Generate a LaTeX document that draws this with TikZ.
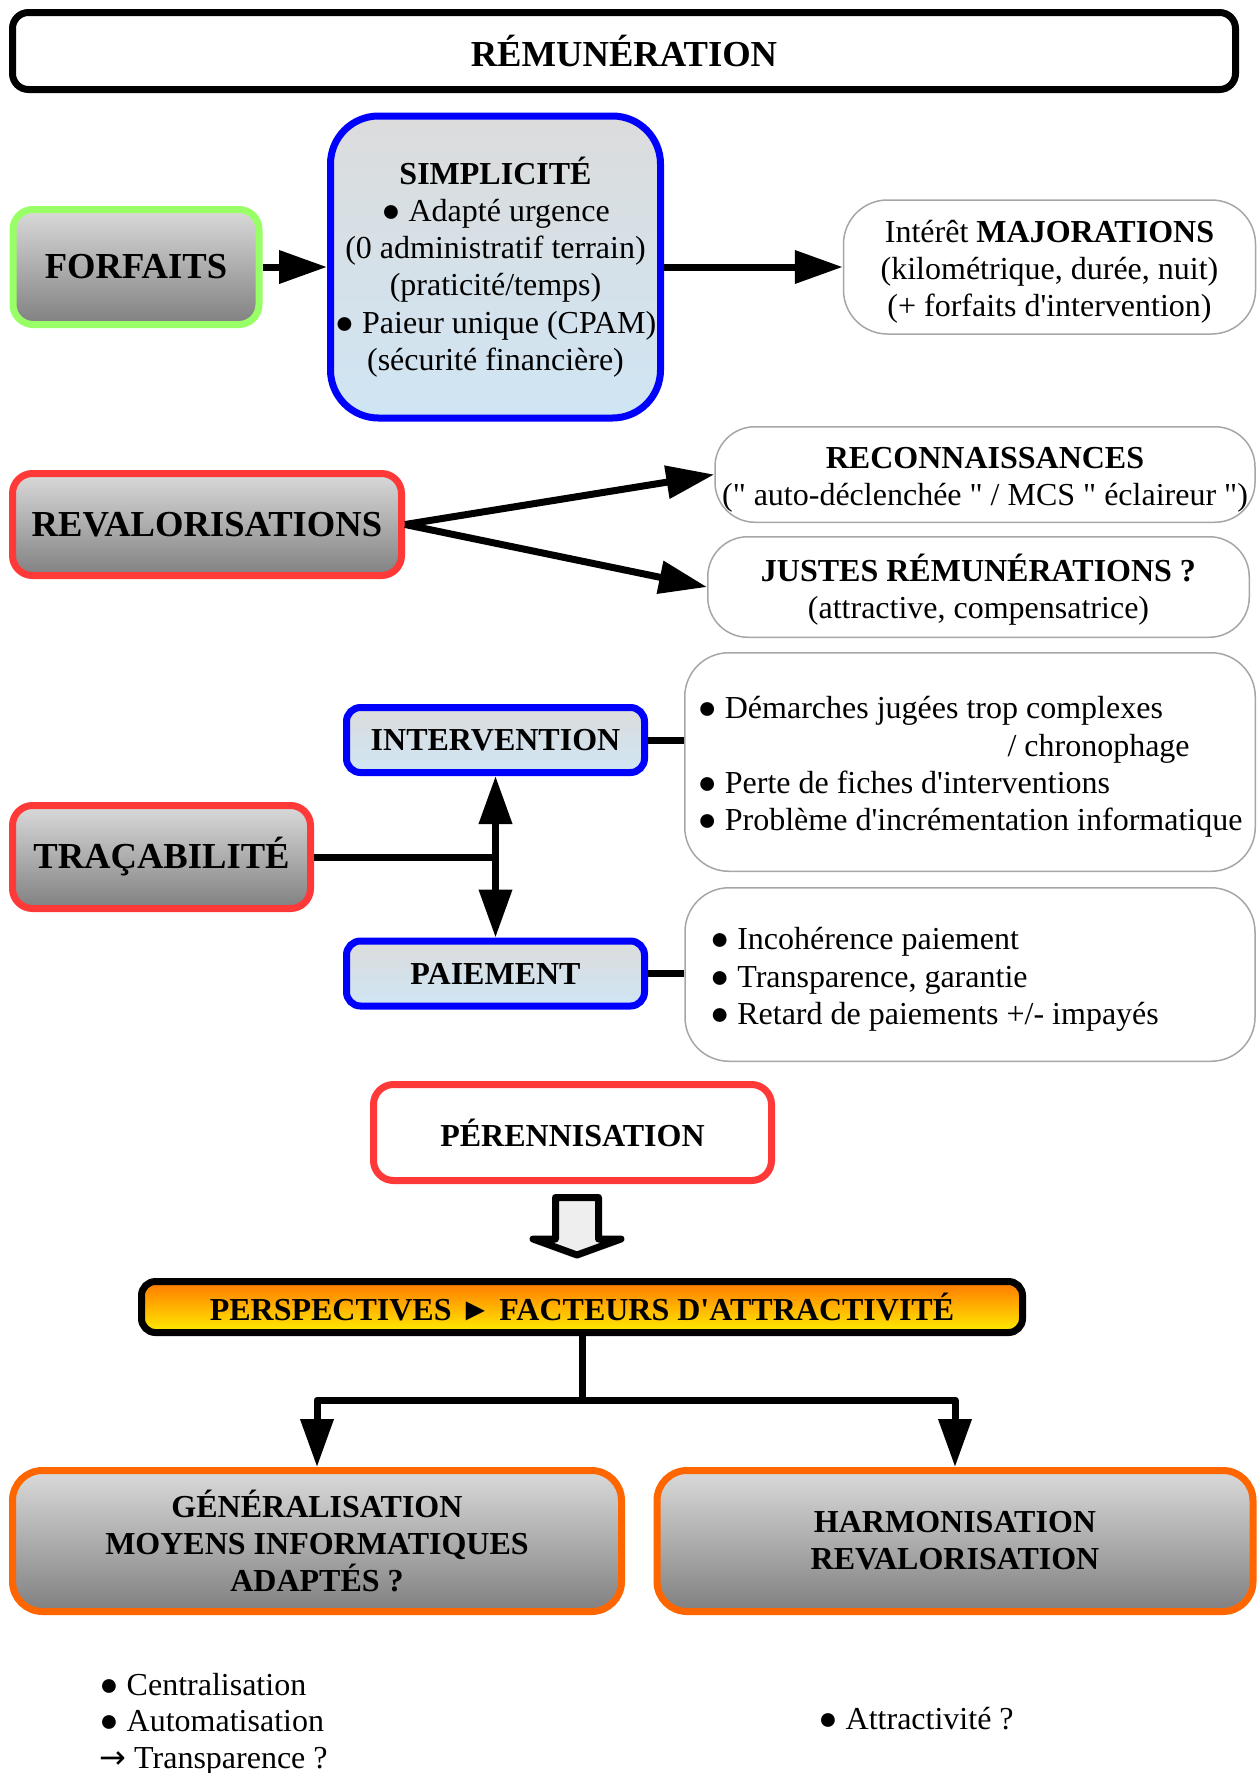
\documentclass[tikz,border=0pt]{standalone}
\usepackage{fontspec}
\setmainfont{Liberation Serif}[Ligatures=TeXOff]
\newfontfamily\symbfont{DejaVu Sans}
\usepackage{xcolor}
\usepackage{tikz}
\usetikzlibrary{arrows.meta,positioning}

\definecolor{vertclair}{HTML}{99FF66}
\definecolor{rougevif}{HTML}{FF3838}
\definecolor{bleuvif}{HTML}{0000FF}
\definecolor{orangevif}{HTML}{FF6600}
\definecolor{grisbord}{HTML}{A6A6A6}
\definecolor{grishaut}{HTML}{DADADA}
\definecolor{grisbas}{HTML}{808080}
\definecolor{grisbleu}{HTML}{DCDCDC}
\definecolor{bleuclair}{HTML}{CFE5F4}
\definecolor{orangeclair}{HTML}{FF7700}
\definecolor{jaune}{HTML}{FFEE00}
\definecolor{grisfleche}{HTML}{EEEEEE}

% premiere ligne un peu plus haute (texte centre plus bas)
\newcommand{\hautligne}{\rule{0pt}{16pt}}

\begin{document}
\begin{tikzpicture}[x=0.5pt, y=-0.5pt,
    texte/.style={font=\fontsize{16}{18.6}\selectfont, align=center},
    gras/.style={font=\fontsize{16}{18.4}\selectfont\bfseries, align=center},
    gros/.style={font=\fontsize{18.3}{22}\selectfont\bfseries, align=center},
    gris/.style={draw, line width=3.5pt, rounded corners=10pt, top color=grishaut, bottom color=grisbas},
    clair/.style={draw=bleuvif, line width=3.5pt, top color=grisbleu, bottom color=bleuclair},
    info/.style={draw=grisbord, line width=0.75pt, rounded corners=22pt, fill=white, texte},
    trait/.style={line width=3.5pt},
    fleche/.style={line width=3.5pt, -{Triangle[length=24pt,width=16pt]}},
    doublefleche/.style={line width=3.5pt, {Triangle[length=24pt,width=16pt]}-{Triangle[length=24pt,width=16pt]}}]
    \useasboundingbox (0,0) rectangle (1257,1773);

    % titre
    \node[draw, line width=3.5pt, rounded corners=8pt, minimum width=611.5pt, minimum height=38.5pt, gros] (titre) at (624,51) {RÉMUNÉRATION};

    % forfaits
    \node[gris, draw=vertclair, minimum width=123pt, minimum height=57.5pt, gros] (forfaits) at (136,267) {FORFAITS};
    \node[clair, rounded corners=24pt, inner sep=0pt, minimum width=165pt, minimum height=151pt, texte, right of=forfaits, node distance=179.75pt] (simplicite) {\textbf{SIMPLICITÉ}\\● Adapté urgence\\(0 administratif terrain)\\(praticité/temps)\\● Paieur unique (CPAM)\\(sécurité financière)};
    \node[info, minimum width=206pt, minimum height=67pt, right of=simplicite, node distance=277pt] (majoration) {\hautligne Intérêt \textbf{MAJORATIONS}\\(kilométrique, durée, nuit)\\(+ forfaits d'intervention)};

    \draw[fleche] (forfaits) -- (simplicite);
    \draw[fleche] (simplicite) -- (majoration);

    % revalorisations
    \node[gris, draw=rougevif, minimum width=194.5pt, minimum height=51pt, gros] (revalo) at (207,524.5) {REVALORISATIONS};
    \node[info, rounded corners=20pt, inner xsep=2pt, minimum width=270pt, minimum height=47.75pt] (recon) at (985,474.5) {\hautligne\textbf{RECONNAISSANCES}\\(" auto-déclenchée " / MCS " éclaireur ")};
    \node[info, rounded corners=20pt, minimum width=270.75pt, minimum height=50.25pt] (justes) at (978.5,587) {\hautligne\textbf{JUSTES RÉMUNÉRATIONS ?}\\(attractive, compensatrice)};

    \draw[fleche] (revalo.east) -- (recon.west);
    \draw[fleche] (revalo.east) -- (justes.west);

    % tracabilite
    \node[gris, draw=rougevif, minimum width=149pt, minimum height=51.5pt, gros] (traca) at (161.5,857) {TRAÇABILITÉ};
    \node[clair, rounded corners=7pt, minimum width=149pt, minimum height=32.5pt, gras] (interv) at (495.5,740) {INTERVENTION};
    \node[clair, rounded corners=7pt, minimum width=149pt, minimum height=32.5pt, gras, below of=interv, node distance=116.75pt] (paiement) {PAIEMENT};
    \node[info, align=left, minimum width=285.25pt, minimum height=109.25pt] (info1) at (970,762) {\hautligne● Démarches jugées trop complexes\\\hspace*{155pt}/ chronophage\\● Perte de fiches d'interventions\\● Problème d'incrémentation informatique};
    \node[info, align=flush left, text width=260pt, inner xsep=12.5pt, minimum height=86.75pt] (info2) at (970,974.5) {\hautligne● Incohérence paiement\\● Transparence, garantie\\● Retard de paiements +/- impayés};

    \draw[trait] (traca) -- (traca -| interv);
    \draw[doublefleche] (interv) -- (paiement);
    \draw[trait] (interv.east) -- (interv.east -| info1.west);
    \draw[trait] (paiement.east) -- (paiement.east -| info2.west);

    % perennisation
    \node[draw=rougevif, line width=3.5pt, rounded corners=10pt, fill=white, minimum width=199pt, minimum height=48pt, gras] (perenn) at (572.5,1132.5) {PÉRENNISATION};
    \draw[line width=3.5pt, line join=round, fill=grisfleche] (555.5,1197.5) -- (598.5,1197.5) -- (598.5,1239) -- (621,1239) -- (577,1255) -- (533,1239) -- (555.5,1239) -- cycle;
    \node[draw, line width=3.5pt, rounded corners=7pt, top color=orangeclair, bottom color=jaune, minimum width=440.5pt, minimum height=25.5pt, gras] (persp) at (582,1307) {PERSPECTIVES ► FACTEURS D'ATTRACTIVITÉ};

    \node[gris, draw=orangevif, rounded corners=15pt, minimum width=304.5pt, minimum height=70.5pt, gras] (gener) at (317,1541) {GÉNÉRALISATION\\MOYENS INFORMATIQUES\\ADAPTÉS ?};
    \node[gris, draw=orangevif, rounded corners=15pt, minimum width=298pt, minimum height=70.5pt, gras] (harmo) at (955,1541) {HARMONISATION\\REVALORISATION};

    \coordinate (fourche) at (582,1400);
    \draw[trait] (persp.south) -- (fourche);
    \draw[fleche, line join=round] (fourche) -| (gener);
    \draw[fleche, line join=round] (fourche) -| (harmo);

    \node[texte, font=\fontsize{16}{18.25}\selectfont, align=left, anchor=west, inner sep=0pt] (centralisation) at (99,1724) {● Centralisation\\● Automatisation\\{\symbfont →} Transparence ?};
    \node[texte, align=left, anchor=west, inner sep=0pt] (attractivite) at (818,1719) {● Attractivité ?};
\end{tikzpicture}
\end{document}
